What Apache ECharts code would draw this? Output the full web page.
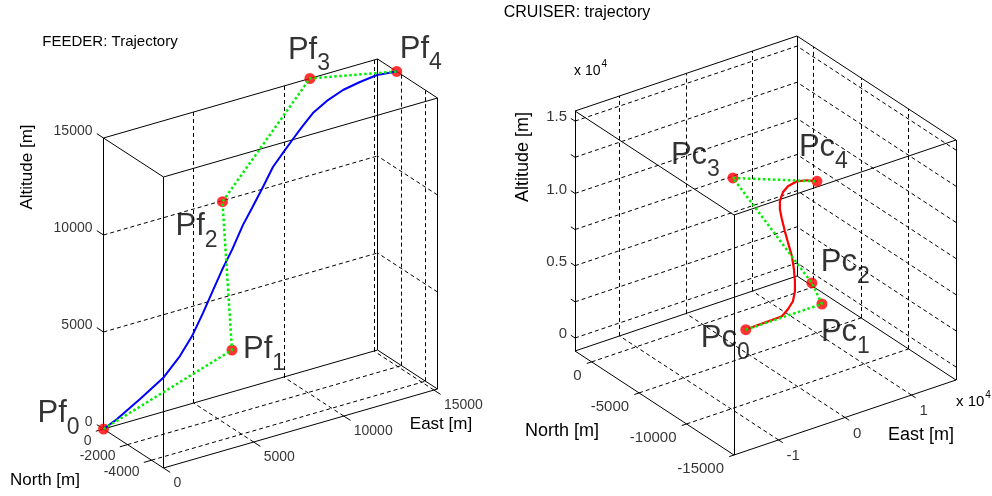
<!DOCTYPE html>
<html>
<head>
<meta charset="utf-8">
<script src="https://cdn.jsdelivr.net/npm/echarts@6/dist/echarts.min.js"></script>
<style>
  html, body { margin: 0; padding: 0; background: #fff; }
  #chart { width: 992px; height: 496px; }
</style>
</head>
<body>
<div id="chart"></div>
<script>
// ---------- FEEDER (left panel), metres ----------
const feederNames = ['Pf0', 'Pf1', 'Pf2', 'Pf3', 'Pf4'];
const feederCtrlEast  = [0, 5130, 6600, 11450, 15200];
const feederCtrlNorth = [0, -3000, 0, 0, -1600];
const feederCtrlAlt   = [0, 3900, 9950, 15000, 15000];

const feederPathEast  = [0, 420, 1430, 2570, 3440, 4080, 4690, 5280, 5840, 6430, 7100, 7640,
  8280, 8900, 9490, 10080, 10600, 11210, 12040, 12820, 13660, 14440, 15200];
const feederPathNorth = [0, -500, -900, -1100, -1200, -1250, -1250, -1200, -1100, -1050, -950, -900,
  -850, -750, -700, -650, -620, -610, -620, -700, -850, -1100, -1600];
const feederPathAlt   = [0, 600, 1530, 2380, 3320, 4200, 5230, 6230, 7070, 7930, 8990, 9710,
  10600, 11420, 11970, 12510, 12980, 13530, 13980, 14320, 14570, 14820, 15000];

const feederEastLim  = [0, 15200];
const feederNorthLim = [-5000, 0];
const feederAltLim   = [0, 15000];
const feederEastTicks  = [0, 5000, 10000, 15000];
const feederNorthTicks = [0, -2000, -4000];
const feederAltTicks   = [0, 5000, 10000, 15000];
const feederEastTickLabels  = ['0', '5000', '10000', '15000'];
const feederNorthTickLabels = ['0', '-2000', '-4000'];
const feederAltTickLabels   = ['0', '5000', '10000', '15000'];

// ---------- CRUISER (right panel), metres ----------
const cruiserNames = ['Pc0', 'Pc1', 'Pc2', 'Pc3', 'Pc4'];
const cruiserCtrlEast  = [1500, 12950, 11440, -440, 12200];
const cruiserCtrlNorth = [-3500, -3500, -3500, -3500, -3500];
const cruiserCtrlAlt   = [0, 0, 1690, 10800, 8600];

const cruiserPathEast  = [1500, 3300, 5430, 6930, 7840, 8590, 8890, 8890, 8740, 8440,
  7840, 7380, 6930, 6630, 6630, 7080, 7840, 9190, 10690, 12200];
const cruiserPathNorth = [-3500, -3500, -3500, -3500, -3500, -3500, -3500, -3500, -3500, -3500,
  -3500, -3500, -3500, -3500, -3500, -3500, -3500, -3500, -3500, -3500];
const cruiserPathAlt   = [0, 40, 60, 90, 430, 870, 1510, 2200, 3060, 4000,
  5060, 5890, 6790, 7530, 8090, 8640, 8940, 9070, 8910, 8600];

const cruiserEastLim  = [-16700, 16700];
const cruiserNorthLim = [-15000, 1750];
const cruiserAltLim   = [-900, 15700];
const cruiserEastTicks  = [-10000, 0, 10000];
const cruiserNorthTicks = [0, -5000, -10000, -15000];
const cruiserAltTicks   = [0, 2500, 5000, 7500, 10000, 12500, 15000];
const cruiserEastTickLabels  = ['-1', '0', '1'];
const cruiserNorthTickLabels = ['0', '-5000', '-10000', '-15000'];
const cruiserAltTickLabels   = ['0', '', '0.5', '', '1.0', '', '1.5'];

// ---------- views: where each box sits on the page ----------
const FONT = 'Arial, "Liberation Sans", Helvetica, sans-serif';
const INK = '#000';

const feederView = {
  e: feederEastLim, n: feederNorthLim, z: feederAltLim,
  o: [163.5, 468], vE: [274, -79], vN: [-60, -39], vZ: [0, -291],
  tickLen: 8, tickFont: 14,
  eOff: [10, 15], nOff: [-12, 12], zOff: [-11, -7]
};
const cruiserView = {
  e: cruiserEastLim, n: cruiserNorthLim, z: cruiserAltLim,
  o: [734, 455], vE: [222, -75], vN: [-159, -104], vZ: [0, -240],
  tickLen: 5, tickFont: 15,
  eOff: [8, 16], nOff: [-10, 14], zOff: [-8, -4]
};

function proj(v, e, n, z) {
  const fe = (e - v.e[0]) / (v.e[1] - v.e[0]);
  const fn = (n - v.n[0]) / (v.n[1] - v.n[0]);
  const fz = (z - v.z[0]) / (v.z[1] - v.z[0]);
  return [
    v.o[0] + fe * v.vE[0] + fn * v.vN[0] + fz * v.vZ[0],
    v.o[1] + fe * v.vE[1] + fn * v.vN[1] + fz * v.vZ[1]
  ];
}

function unit(p, s) {
  const l = Math.hypot(p[0], p[1]);
  return [s * p[0] / l, s * p[1] / l];
}

function boxEdges(v) {
  const segs = [];
  const E = v.e, N = v.n, Z = v.z;
  for (const n of N) for (const z of Z) segs.push([proj(v, E[0], n, z), proj(v, E[1], n, z)]);
  for (const e of E) for (const z of Z) segs.push([proj(v, e, N[0], z), proj(v, e, N[1], z)]);
  for (const e of E) for (const n of N) segs.push([proj(v, e, n, Z[0]), proj(v, e, n, Z[1])]);
  return segs;
}

function gridLines(v, eT, nT, zT) {
  const segs = [];
  const [e0, e1] = v.e, [n0, n1] = v.n, [z0, z1] = v.z;
  const inE = eT.filter(e => e > e0 && e < e1);
  const inN = nT.filter(n => n > n0 && n < n1);
  const inZ = zT.filter(z => z > z0 && z < z1);
  // back wall (north = max)
  inE.forEach(e => segs.push([proj(v, e, n1, z0), proj(v, e, n1, z1)]));
  inZ.forEach(z => segs.push([proj(v, e0, n1, z), proj(v, e1, n1, z)]));
  // side wall (east = max)
  inN.forEach(n => segs.push([proj(v, e1, n, z0), proj(v, e1, n, z1)]));
  inZ.forEach(z => segs.push([proj(v, e1, n0, z), proj(v, e1, n1, z)]));
  // floor
  inE.forEach(e => segs.push([proj(v, e, n0, z0), proj(v, e, n1, z0)]));
  inN.forEach(n => segs.push([proj(v, e0, n, z0), proj(v, e1, n, z0)]));
  return segs;
}

function ticks(v, eT, nT, zT, eL, nL, zL, marks, labels) {
  const dE = unit([-v.vN[0], -v.vN[1]], v.tickLen);
  const dN = unit([-v.vE[0], -v.vE[1]], v.tickLen);
  const dZ = unit(v.vN, v.tickLen);
  const add = (p, d, txt, align, off) => {
    marks.push([p, [p[0] + d[0], p[1] + d[1]]]);
    if (txt !== '') labels.push({
      value: p,
      label: { formatter: txt, align: align, offset: off, fontSize: v.tickFont }
    });
  };
  eT.forEach((e, i) => add(proj(v, e, v.n[0], v.z[0]), dE, eL[i], 'left', v.eOff));
  nT.forEach((n, i) => add(proj(v, v.e[0], n, v.z[0]), dN, nL[i], 'right', v.nOff));
  zT.forEach((z, i) => add(proj(v, v.e[0], v.n[1], z), dZ, zL[i], 'right', v.zOff));
}

function path(v, E, N, Z) {
  return E.map((e, i) => proj(v, e, N[i], Z[i]));
}

const gridSegs = gridLines(feederView, feederEastTicks, feederNorthTicks, feederAltTicks)
  .concat(gridLines(cruiserView, cruiserEastTicks, cruiserNorthTicks, cruiserAltTicks));
const edgeSegs = boxEdges(feederView).concat(boxEdges(cruiserView));
const tickMarks = [], tickLabels = [];
ticks(feederView, feederEastTicks, feederNorthTicks, feederAltTicks,
  feederEastTickLabels, feederNorthTickLabels, feederAltTickLabels, tickMarks, tickLabels);
ticks(cruiserView, cruiserEastTicks, cruiserNorthTicks, cruiserAltTicks,
  cruiserEastTickLabels, cruiserNorthTickLabels, cruiserAltTickLabels, tickMarks, tickLabels);

// label placement of point names (left/top of text relative to the marker)
const feederNameOff  = [[-66, -31], [11, -16], [-47, 9], [-22, -44], [3, -38]];
const cruiserNameOff = [[-45, -7], [-1, 13], [9, -36], [-62, -38], [-18, -49]];

function markers(v, names, E, N, Z, offs) {
  return names.map((nm, i) => ({ name: nm, value: proj(v, E[i], N[i], Z[i]), label: { offset: offs[i] } }));
}

const nameRich = {
  m: { fontSize: 31, fontFamily: FONT, color: INK, verticalAlign: 'bottom', padding: [0, 0, 10, 0] },
  s: { fontSize: 23, fontFamily: FONT, color: INK, verticalAlign: 'bottom' }
};

const segData = segs => segs.map(s => ({ coords: s }));

const txt = (x, y, text, size, extra) => Object.assign({
  type: 'text', x: x, y: y,
  style: {
    text: text, font: size + 'px ' + FONT, fill: INK,
    textAlign: 'center', textVerticalAlign: 'middle', align: 'center', verticalAlign: 'middle'
  }
}, extra || {});

const expRich = size => ({
  a: { fontSize: size, fontFamily: FONT, color: INK, verticalAlign: 'bottom' },
  b: { fontSize: 10, fontFamily: FONT, color: INK, verticalAlign: 'bottom', padding: [0, 0, 9, 1] }
});

const chart = echarts.init(document.getElementById('chart'), null, { renderer: 'canvas' });

const option = {
  animation: false,
  backgroundColor: '#fff',
  grid: { left: 0, right: 0, top: 0, bottom: 0 },
  xAxis: { type: 'value', min: 0, max: 992, show: false },
  yAxis: { type: 'value', min: 0, max: 496, inverse: true, show: false },
  graphic: [
    txt(110, 42, 'FEEDER: Trajectory', 15),
    txt(577, 13, 'CRUISER: trajectory', 16),
    txt(27, 167, 'Altitude [m]', 17, { rotation: Math.PI / 2 }),
    txt(45, 480, 'North [m]', 17),
    txt(441, 424, 'East [m]', 17),
    txt(523, 157, 'Altitude [m]', 18, { rotation: Math.PI / 2 }),
    txt(562, 431, 'North [m]', 18),
    txt(921, 435, 'East [m]', 18),
    { type: 'text', x: 574, y: 59, style: { text: '{a|x 10}{b|4}', rich: expRich(14) } },
    { type: 'text', x: 956, y: 390, style: { text: '{a|x 10}{b|4}', rich: expRich(15) } }
  ],
  series: [
    {
      type: 'lines', coordinateSystem: 'cartesian2d', silent: true,
      lineStyle: { color: '#000', width: 1, type: [4, 3], opacity: 1 },
      data: segData(gridSegs)
    },
    {
      type: 'lines', coordinateSystem: 'cartesian2d', silent: true,
      lineStyle: { color: '#000', width: 1, type: 'solid', opacity: 1 },
      data: segData(edgeSegs.concat(tickMarks))
    },
    {
      type: 'scatter', silent: true, symbolSize: 1,
      itemStyle: { color: 'rgba(0,0,0,0)' },
      label: { show: true, position: 'inside', verticalAlign: 'middle', color: INK, fontFamily: FONT },
      data: tickLabels
    },
    {
      type: 'line', name: 'FEEDER path', showSymbol: false, symbol: 'none',
      lineStyle: { color: '#0000ff', width: 2 },
      data: path(feederView, feederPathEast, feederPathNorth, feederPathAlt)
    },
    {
      type: 'line', name: 'CRUISER path', showSymbol: false, symbol: 'none',
      lineStyle: { color: '#ff0000', width: 2.2 },
      data: path(cruiserView, cruiserPathEast, cruiserPathNorth, cruiserPathAlt)
    },
    {
      type: 'scatter', name: 'points', symbolSize: 11,
      itemStyle: { color: '#ff0000' },
      label: {
        show: true, position: 'inside', align: 'left', verticalAlign: 'top',
        formatter: p => '{m|' + p.name.slice(0, 2) + '}{s|' + p.name.slice(2) + '}',
        rich: nameRich
      },
      data: markers(feederView, feederNames, feederCtrlEast, feederCtrlNorth, feederCtrlAlt, feederNameOff)
        .concat(markers(cruiserView, cruiserNames, cruiserCtrlEast, cruiserCtrlNorth, cruiserCtrlAlt, cruiserNameOff))
    },
    {
      type: 'line', name: 'FEEDER polygon', showSymbol: false, symbol: 'none',
      lineStyle: { color: '#00ee00', width: 2.5, type: [2.5, 2.5] },
      data: path(feederView, feederCtrlEast, feederCtrlNorth, feederCtrlAlt)
    },
    {
      type: 'line', name: 'CRUISER polygon', showSymbol: false, symbol: 'none',
      lineStyle: { color: '#00ee00', width: 2.5, type: [2.5, 2.5] },
      data: path(cruiserView, cruiserCtrlEast, cruiserCtrlNorth, cruiserCtrlAlt)
    }
  ]
};

chart.setOption(option);
window.addEventListener('resize', () => chart.resize());
</script>
</body>
</html>
